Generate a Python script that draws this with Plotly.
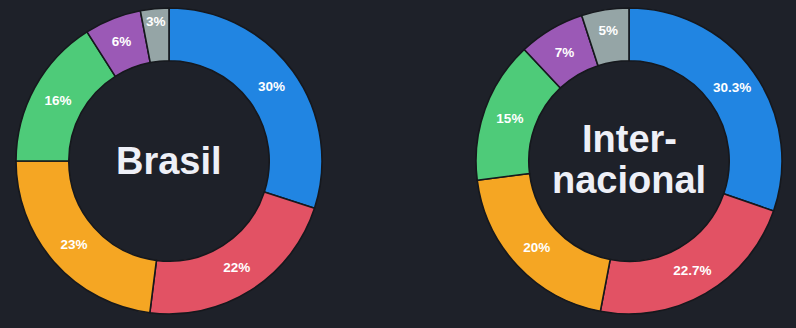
import plotly.graph_objects as go

categories = ["A", "B", "C", "D", "E", "F"]
brasil_values = [30, 22, 23, 16, 6, 3]
brasil_labels = ["30%", "22%", "23%", "16%", "6%", "3%"]
intl_values = [30.3, 22.7, 20, 15, 7, 5]
intl_labels = ["30.3%", "22.7%", "20%", "15%", "7%", "5%"]
colors = ["#2185e2", "#e25264", "#f5a623", "#4ecb79", "#9b59b6", "#95a5a6"]

BG = "#1e2129"
fig = go.Figure()
for vals, labs, dom in [
    (brasil_values, brasil_labels, [16 / 796, 322 / 796]),
    (intl_values, intl_labels, [476 / 796, 782 / 796]),
]:
    fig.add_trace(go.Pie(
        labels=categories, values=vals, text=labs, textinfo="text",
        textposition="inside", insidetextorientation="horizontal",
        hole=0.655, sort=False, direction="clockwise", rotation=0,
        marker=dict(colors=colors, line=dict(color="#16181d", width=1.6)),
        textfont=dict(family="Liberation Sans", size=13.5, color="#ffffff", weight="bold"),
        domain=dict(x=dom, y=[0, 1]), showlegend=False, hoverinfo="skip",
    ))

title_font = dict(family="Liberation Sans", size=38, color="#eef0f7", weight="bold")
fig.add_annotation(text="Brasil", x=169 / 796, y=0.5, xref="paper", yref="paper",
                   showarrow=False, font=title_font, xanchor="center", yanchor="middle")
fig.add_annotation(text="Inter-", x=629 / 796, y=(314 - 139) / 306, xref="paper", yref="paper",
                   showarrow=False, font=title_font, xanchor="center", yanchor="middle")
fig.add_annotation(text="nacional", x=629 / 796, y=(314 - 180) / 306, xref="paper", yref="paper",
                   showarrow=False, font=title_font, xanchor="center", yanchor="middle")

fig.update_layout(
    width=796, height=328, paper_bgcolor=BG, plot_bgcolor=BG,
    margin=dict(l=0, r=0, t=8, b=14),
)
fig.write_html("out.html")
